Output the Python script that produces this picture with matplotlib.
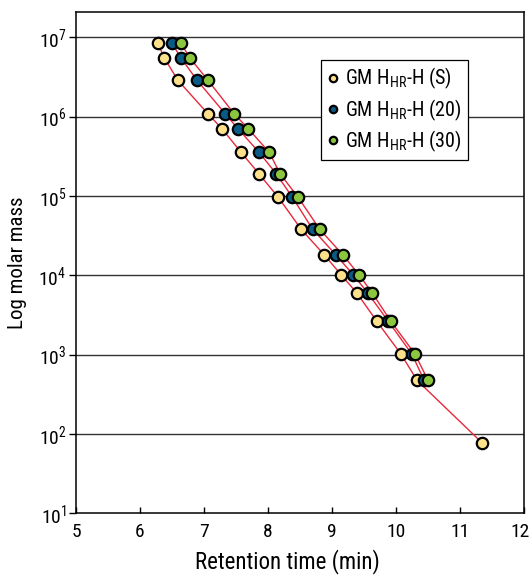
import numpy as np
import matplotlib.pyplot as plt
from matplotlib import font_manager
from matplotlib.transforms import ScaledTranslation

# condensed face if there is one, Roboto otherwise
installed = {f.name for f in font_manager.fontManager.ttflist}
face = next((f for f in ["Roboto Condensed", "Liberation Sans Narrow", "Roboto"]
             if f in installed), "DejaVu Sans")
plt.rcParams["font.family"] = [face, "DejaVu Sans"]
plt.rcParams["mathtext.default"] = "regular"

# --------------------------------------------------
# Data
# --------------------------------------------------
molar_mass = [8.42e6, 5.48e6, 2.89e6, 1.09e6, 7.06e5, 3.55e5, 1.90e5, 9.64e4,
              3.79e4, 1.81e4, 1.02e4, 5.97e3, 2.63e3, 1.01e3, 4.74e2, 7.8e1]

rt_s = [6.28, 6.38, 6.59, 7.06, 7.28, 7.58, 7.86, 8.16,
        8.52, 8.88, 9.14, 9.39, 9.70, 10.08, 10.33, 11.34]
rt_20 = [6.50, 6.64, 6.89, 7.33, 7.53, 7.86, 8.13, 8.38,
         8.70, 9.06, 9.33, 9.56, 9.88, 10.25, 10.44]
rt_30 = [6.64, 6.78, 7.06, 7.47, 7.69, 8.02, 8.19, 8.47,
         8.81, 9.17, 9.42, 9.63, 9.92, 10.30, 10.50]

labels = [r"GM H$_{HR}$-H (S)", r"GM H$_{HR}$-H (20)", r"GM H$_{HR}$-H (30)"]
colors = ["#fde08a", "#0a5a86", "#8cc63f"]

x_ticks = [5, 6, 7, 8, 9, 10, 11, 12]
y_ticks = [1e1, 1e2, 1e3, 1e4, 1e5, 1e6, 1e7]

# --------------------------------------------------
# Plot
# --------------------------------------------------
fig = plt.figure(figsize=(5.31, 5.75), dpi=100)
ax = fig.add_axes([0.1431, 0.1073, 0.8437, 0.8724])

ax.set_yscale("log")
ax.set_xlim(5, 12)
ax.set_ylim(1e1, 10 ** 7.323)

for yt in y_ticks[1:]:
    ax.axhline(yt, color="#333333", linewidth=1.0, zorder=1)

series = [rt_s, rt_20, rt_30]

for rt in series:
    ax.plot(rt, molar_mass[:len(rt)], color="#e8283c", linewidth=1.0, zorder=2)

for rt, lab, col in zip(series, labels, colors):
    ax.plot(
        rt,
        molar_mass[:len(rt)],
        linestyle="none",
        marker="o",
        markersize=8.2,
        markerfacecolor=col,
        markeredgecolor="black",
        markeredgewidth=1.6,
        zorder=3,
        label=lab
    )

ax.set_xticks(x_ticks)
ax.set_yticks(y_ticks)
ax.minorticks_off()
ax.tick_params(axis="x", direction="in", length=4, width=1, pad=7, labelsize=14)
ax.tick_params(axis="y", direction="out", length=5, width=1, pad=2, labelsize=14)

# last x label sits a touch left so it stays inside the figure
last = ax.get_xticklabels()[-1]
last.set_transform(last.get_transform() + ScaledTranslation(-3 / 72, 0, fig.dpi_scale_trans))

for side in ["left", "right", "top", "bottom"]:
    ax.spines[side].set_linewidth(1.1)

ax.set_xlabel("Retention time (min)", fontsize=16.5, labelpad=7)
ax.xaxis.set_label_coords(0.471, -0.072)
ax.set_ylabel("Log molar mass", fontsize=15, labelpad=8)

leg = ax.legend(
    loc="upper left",
    bbox_to_anchor=(0.547, 0.904),
    fontsize=14.5,
    frameon=True,
    fancybox=False,
    edgecolor="black",
    framealpha=1,
    handlelength=0.6,
    handletextpad=0.3,
    borderpad=0.3,
    labelspacing=0.3,
    markerscale=0.65,
    borderaxespad=0
)
leg.get_frame().set_linewidth(0.9)
leg.set_zorder(5)

fig.savefig("out.png", dpi=100)
